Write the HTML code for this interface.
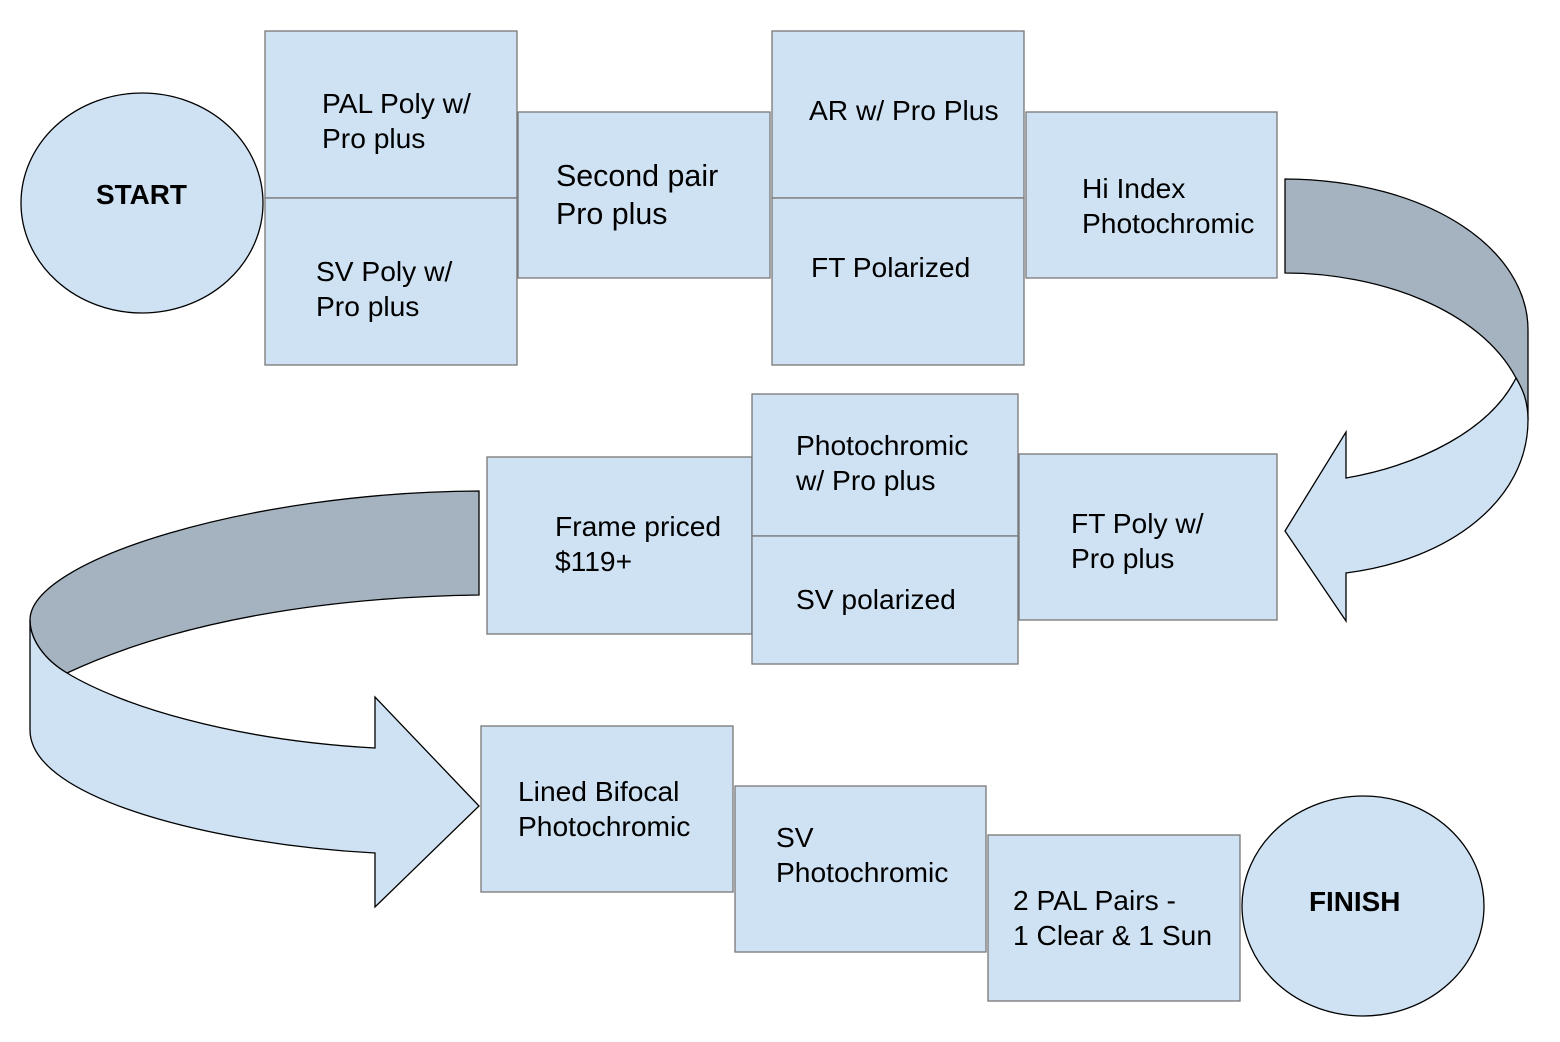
<html><body style="margin:0;background:#fff">
<svg width="1560" height="1042" xmlns="http://www.w3.org/2000/svg" style="display:block;font-family:'Liberation Sans',sans-serif">
<g fill="#cfe2f3" stroke="#777" stroke-width="1.3">
<rect x="265" y="31" width="252" height="167"/>
<rect x="265" y="198" width="252" height="167"/>
<rect x="518" y="112" width="252" height="166"/>
<rect x="772" y="31" width="252" height="167"/>
<rect x="772" y="198" width="252" height="167"/>
<rect x="1026" y="112" width="251" height="166"/>
<rect x="487" y="457" width="265" height="177"/>
<rect x="752" y="394" width="266" height="142"/>
<rect x="752" y="536" width="266" height="128"/>
<rect x="1019" y="454" width="258" height="166"/>
<rect x="481" y="726" width="252" height="166"/>
<rect x="735" y="786" width="251" height="166"/>
<rect x="988" y="835" width="252" height="166"/>
</g>
<g stroke="#000" stroke-width="1.3">
<ellipse cx="142" cy="203" rx="121" ry="110" fill="#cfe2f3"/>
<ellipse cx="1363" cy="906" rx="121" ry="110" fill="#cfe2f3"/>
<path d="M1285,179 C1430,180 1528,250 1528,330 L1528,420 C1528,400 1520,385 1516,378 C1480,310 1380,273 1285,273 Z" fill="#a4b3bf"/>
<path d="M1516,378 C1490,430 1420,465 1346,478 L1346,432 L1285,531 L1346,621 L1346,573 C1450,560 1528,500 1528,420 C1528,400 1522,388 1516,378 Z" fill="#cfe2f3"/>
<path d="M479,491 C250,492 30,560 30,620 C30,640 45,660 67,673 C180,620 330,597 479,595 Z" fill="#a4b3bf"/>
<path d="M67,673 C45,660 30,640 30,620 L30,730 C30,800 220,845 375,853 L375,907 L479,806 L375,697 L375,748 C230,740 120,705 67,673 Z" fill="#cfe2f3"/>
</g>
<g font-size="28.2" fill="#000">
<text x="96" y="204" font-weight="bold" font-size="27.9">START</text>
<text x="1309" y="911" font-weight="bold" font-size="27.9">FINISH</text>
<text x="322" y="113">PAL Poly w/</text><text x="322" y="148">Pro plus</text>
<text x="316" y="281">SV Poly w/</text><text x="316" y="316">Pro plus</text>
<text x="556" y="186" font-size="30.4">Second pair</text><text x="556" y="224" font-size="30.4">Pro plus</text>
<text x="809" y="120">AR w/ Pro Plus</text>
<text x="811" y="277">FT Polarized</text>
<text x="1082" y="198">Hi Index</text><text x="1082" y="233">Photochromic</text>
<text x="555" y="536">Frame priced</text><text x="555" y="571">$119+</text>
<text x="796" y="455">Photochromic</text><text x="796" y="490">w/ Pro plus</text>
<text x="796" y="609">SV polarized</text>
<text x="1071" y="533">FT Poly w/</text><text x="1071" y="568">Pro plus</text>
<text x="518" y="801">Lined Bifocal</text><text x="518" y="836">Photochromic</text>
<text x="776" y="847">SV</text><text x="776" y="882">Photochromic</text>
<text x="1013" y="910">2 PAL Pairs -</text><text x="1013" y="945">1 Clear &amp; 1 Sun</text>
</g>
</svg>
</body></html>
